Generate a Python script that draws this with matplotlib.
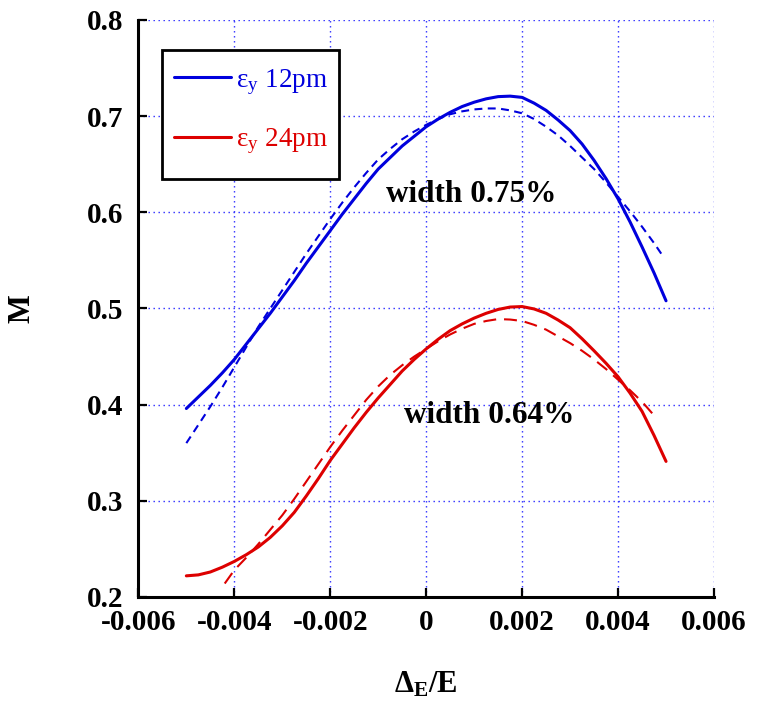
import matplotlib
matplotlib.use("Agg")
import matplotlib.pyplot as plt
from matplotlib.patches import Rectangle

plt.rcParams['font.family'] = ['Liberation Serif', 'DejaVu Serif']
plt.rcParams['mathtext.fontset'] = 'custom'
plt.rcParams['mathtext.rm'] = 'Liberation Serif'
plt.rcParams['mathtext.it'] = 'Liberation Serif:italic'
plt.rcParams['mathtext.bf'] = 'Liberation Serif:bold'

# Energy offset Delta_E/E for the simulated curves
x_sim = [-0.005, -0.00475, -0.0045, -0.00425, -0.004, -0.00375, -0.0035, -0.00325,
         -0.003, -0.00275, -0.0025, -0.00225, -0.002, -0.00175, -0.0015, -0.00125,
         -0.001, -0.00075, -0.0005, -0.00025, 0.0, 0.00025, 0.0005, 0.00075,
         0.001, 0.00125, 0.0015, 0.00175, 0.002, 0.00225, 0.0025, 0.00275,
         0.003, 0.00325, 0.0035, 0.00375, 0.004, 0.00425, 0.0045, 0.00475, 0.005]

# eps_y = 12 pm
m12_sim = [0.396, 0.408, 0.420, 0.433, 0.447, 0.463, 0.479, 0.495,
           0.512, 0.529, 0.547, 0.564, 0.581, 0.598, 0.614, 0.630,
           0.645, 0.657, 0.669, 0.679, 0.689, 0.697, 0.704, 0.710,
           0.7145, 0.718, 0.7203, 0.7208, 0.7195, 0.7135, 0.706, 0.696,
           0.685, 0.671, 0.654, 0.635, 0.614, 0.590, 0.564, 0.537, 0.508]
x12_fit = [-0.005, -0.00475, -0.0045, -0.00425, -0.004, -0.00375, -0.0035, -0.00325,
           -0.003, -0.00275, -0.0025, -0.00225, -0.002, -0.00175, -0.0015, -0.00125,
           -0.001, -0.00075, -0.0005, -0.00025, 0.0, 0.00025, 0.0005, 0.00075,
           0.001, 0.00125, 0.0015, 0.00175, 0.002, 0.00225, 0.0025, 0.00275,
           0.003, 0.00325, 0.0035, 0.00375, 0.004, 0.00425, 0.0045, 0.00475, 0.0049]
m12_fit = [0.360, 0.379, 0.398, 0.418, 0.439, 0.460, 0.481, 0.500,
           0.519, 0.538, 0.557, 0.575, 0.593, 0.610, 0.626, 0.641,
           0.655, 0.666, 0.676, 0.684, 0.691, 0.697, 0.702, 0.705,
           0.707, 0.708, 0.708, 0.706, 0.703, 0.697, 0.689, 0.680,
           0.669, 0.657, 0.645, 0.631, 0.616, 0.601, 0.585, 0.568, 0.557]

# eps_y = 24 pm
m24_sim = [0.222, 0.223, 0.226, 0.231, 0.237, 0.244, 0.252, 0.262,
           0.274, 0.288, 0.305, 0.323, 0.342, 0.359, 0.376, 0.392,
           0.407, 0.421, 0.435, 0.447, 0.458, 0.468, 0.477, 0.484,
           0.490, 0.495, 0.499, 0.5015, 0.502, 0.4995, 0.495, 0.488,
           0.480, 0.4685, 0.456, 0.443, 0.429, 0.412, 0.393, 0.368, 0.341]
x24_fit = [-0.0042, -0.004, -0.00375, -0.0035, -0.00325, -0.003, -0.00275, -0.0025,
           -0.00225, -0.002, -0.00175, -0.0015, -0.00125, -0.001, -0.00075, -0.0005,
           -0.00025, 0.0, 0.00025, 0.0005, 0.00075, 0.001, 0.00125, 0.0015,
           0.00175, 0.002, 0.00225, 0.0025, 0.00275, 0.003, 0.00325, 0.0035,
           0.00375, 0.004, 0.00425, 0.0045, 0.0048]
m24_fit = [0.214, 0.228, 0.241, 0.255, 0.270, 0.285, 0.302, 0.320,
           0.338, 0.356, 0.373, 0.389, 0.405, 0.419, 0.431, 0.441,
           0.450, 0.458, 0.466, 0.473, 0.479, 0.484, 0.487, 0.489,
           0.4885, 0.487, 0.483, 0.478, 0.471, 0.464, 0.456, 0.447,
           0.437, 0.426, 0.415, 0.403, 0.386]

x_ticks = [-0.006, -0.004, -0.002, 0, 0.002, 0.004, 0.006]
x_ticklabels = ['-0.006', '-0.004', '-0.002', '0', '0.002', '0.004', '0.006']
y_ticks = [0.2, 0.3, 0.4, 0.5, 0.6, 0.7, 0.8]
y_ticklabels = ['0.2', '0.3', '0.4', '0.5', '0.6', '0.7', '0.8']

BLUE = '#0000dd'
RED = '#dd0000'

fig = plt.figure(figsize=(7.57, 7.06), dpi=100)
ax = fig.add_axes([0.1828, 0.1544, 0.7604, 0.8173])

l1, = ax.plot(x_sim, m12_sim, color=BLUE, lw=2.2, solid_capstyle='round',
              solid_joinstyle='round', label=r'$\mathrm{\varepsilon_y}$ 12pm', zorder=3)
ax.plot(x12_fit, m12_fit, color=BLUE, lw=1.5, dashes=(3.8, 2.6), zorder=3)
l2, = ax.plot(x_sim, m24_sim, color=RED, lw=2.2, solid_capstyle='round',
              solid_joinstyle='round', label=r'$\mathrm{\varepsilon_y}$ 24pm', zorder=3)
ax.plot(x24_fit, m24_fit, color=RED, lw=1.5, dashes=(6.2, 3.8), zorder=3)

ax.set_xlim(-0.006, 0.006)
ax.set_ylim(0.2, 0.8)
ax.set_xticks(x_ticks)
ax.set_xticklabels(x_ticklabels)
ax.set_yticks(y_ticks)
ax.set_yticklabels(y_ticklabels)

for lab in ax.get_xticklabels() + ax.get_yticklabels():
    lab.set_fontweight('bold')
    lab.set_fontsize(21)

ax.tick_params(axis='both', direction='in', length=6.5, width=1.6, colors='black')
ax.tick_params(axis='x', pad=9)
ax.tick_params(axis='y', pad=11)

for side in ('top', 'right'):
    ax.spines[side].set_visible(False)
for side in ('left', 'bottom'):
    ax.spines[side].set_linewidth(2.2)

ax.grid(True, color='#2a2aff', lw=1.0, linestyle=(0, (1, 2.6)), zorder=0)
ax.set_axisbelow(True)

ax.set_xlabel(r'$\mathbf{\Delta_E/E}$', fontsize=22, labelpad=24)
ax.set_ylabel('M', fontsize=22, fontweight='bold', labelpad=36)

ax.text(-0.00083, 0.611, 'width 0.75%', fontsize=22.5, fontweight='bold', ha='left',
        va='baseline')
ax.text(-0.00047, 0.381, 'width 0.64%', fontsize=22.5, fontweight='bold', ha='left',
        va='baseline')

# legend entries without frame, framed by a plain square box
leg = ax.legend(handles=[l1, l2], loc='upper left', bbox_to_anchor=(0.0618, 0.9185),
                fontsize=19.5, handlelength=2.1, handletextpad=0.2, labelspacing=1.1,
                borderpad=0.0, borderaxespad=0.0, frameon=False)
leg.get_texts()[0].set_color(BLUE)
leg.get_texts()[1].set_color(RED)
leg.set_zorder(5)

ax.add_patch(Rectangle((0.041, 0.7244), 0.3075, 0.2236, transform=ax.transAxes,
                       facecolor='white', edgecolor='black', lw=2.0, zorder=4))

fig.savefig('out.png', dpi=100)
